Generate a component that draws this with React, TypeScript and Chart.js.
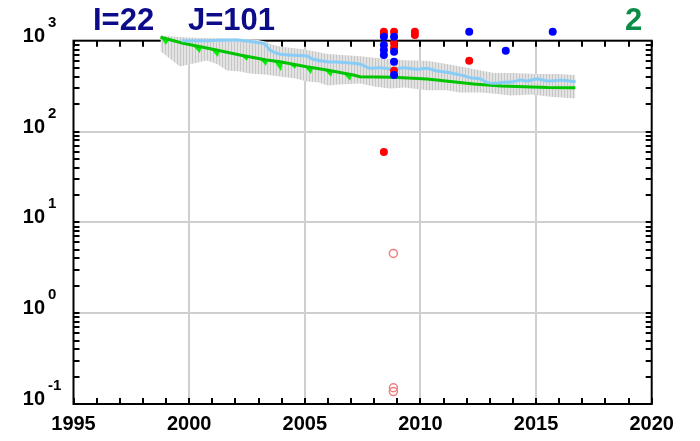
import React, { useEffect, useRef } from 'react';
import { Chart, registerables } from 'chart.js';
Chart.register(...registerables);

// ---- axis definitions ----
const X_MIN = 1995;
const X_MAX = 2020;
const Y_MIN = 0.1;
const Y_MAX = 1000;
const xTickLabels = [1995, 2000, 2005, 2010, 2015, 2020];
const xGridYears = [2000, 2005, 2010, 2015];
const yDecades = [-1, 0, 1, 2, 3];
const yGridDecades = [0, 1, 2];

// ---- titles ----
const titleLeft = 'I=22';
const titleMid = 'J=101';
const titleRight = '2';

// ---- grey envelope ----
const bandUpperYears = [1998.76, 1999.5, 2000.5, 2002.0, 2003.0, 2003.3, 2003.6, 2004.0, 2005.0, 2005.5, 2006.0, 2007.4, 2008.3, 2009.3, 2010.3, 2011.2, 2011.9, 2012.6, 2013.2, 2014.0, 2015.0, 2016.0, 2016.71];
const bandUpperVals = [1150, 1100, 1070, 1060, 1020, 980, 900, 860, 800, 755, 715, 675, 635, 610, 600, 550, 510, 470, 440, 440, 430, 430, 420];
const bandLowerYears = [1998.73, 1999.16, 1999.6, 2000.0, 2000.76, 2001.24, 2001.63, 2002.2, 2002.6, 2003.3, 2003.9, 2004.6, 2005.1, 2005.6, 2006.0, 2006.5, 2007.4, 2008.0, 2008.7, 2009.3, 2010.3, 2011.1, 2011.7, 2012.6, 2013.15, 2013.9, 2014.8, 2015.6, 2016.7];
const bandLowerVals = [780, 637, 520, 546, 606, 546, 470, 459, 436, 424, 403, 384, 355, 347, 321, 329, 338, 313, 298, 305, 284, 284, 269, 269, 262, 249, 255, 242, 231];

// ---- green line and its spikes ----
const greenYears = [1998.76, 1999.74, 2001.18, 2002.19, 2003.35, 2003.93, 2005.08, 2005.95, 2007.10, 2007.39, 2008.82, 2010.29, 2011.40, 2012.3, 2013.5, 2014.47, 2015.5, 2016.7];
const greenVals = [1090, 936, 790, 696, 613, 587, 517, 476, 419, 402, 396, 379, 353, 334, 318, 312, 305, 304];
const spikeYears = [1998.76, 1998.99, 1999.15, 2000.16, 2000.46, 2000.54, 2000.94, 2001.24, 2001.32, 2002.2, 2002.5, 2002.58, 2003.02, 2003.32, 2003.4, 2003.67, 2003.97, 2004.05, 2004.28, 2004.58, 2004.66, 2004.97, 2005.27, 2005.35, 2005.84, 2006.14, 2006.22, 2006.66, 2006.96, 2007.04];
const spikeVals = [1090, 900, 1025, 880, 730, 850, 805, 660, 775, 694, 600, 670, 640, 530, 608, 596, 460, 580, 565, 490, 545, 522, 430, 502, 480, 400, 462, 438, 362, 425];

// ---- light blue line ----
const blueLineYears = [1999.67, 2000.75, 2002.05, 2002.99, 2003.28, 2003.49, 2003.93, 2005.08, 2005.37, 2005.95, 2006.53, 2007.39, 2007.82, 2008.26, 2008.83, 2009.27, 2009.85, 2010.28, 2010.71, 2011.15, 2011.58, 2011.87, 2012.16, 2012.59, 2012.88, 2013.17, 2013.6, 2014.03, 2014.32, 2014.61, 2015.05, 2015.48, 2016.06, 2016.71];
const blueLineVals = [1000, 1000, 1018, 951, 913, 790, 708, 678, 624, 587, 578, 550, 497, 505, 484, 505, 484, 497, 464, 449, 427, 412, 391, 379, 348, 339, 348, 353, 369, 360, 379, 360, 366, 353];

// ---- dots ----
const redDotYears = [2008.42, 2008.42, 2008.86, 2008.86, 2008.86, 2008.86, 2009.76, 2009.76, 2012.11, 2008.42];
const redDotVals = [1256, 1180, 1256, 936, 831, 467, 1256, 1156, 602, 59.5];
const blueDotYears = [2008.42, 2008.42, 2008.42, 2008.42, 2008.86, 2008.86, 2008.86, 2008.86, 2012.11, 2013.69, 2015.72];
const blueDotVals = [1107, 897, 790, 696, 1107, 757, 587, 419, 1256, 776, 1256];
const hollowYears = [2008.83, 2008.83, 2008.83];
const hollowVals = [4.55, 0.151, 0.137];

const pts = (xs: number[], ys: number[]) => xs.map((x, i) => ({ x, y: ys[i] }));

const FONT = '"Liberation Sans", Arial, Helvetica, sans-serif';

// layout of the axes box in the canvas
const BOX_LEFT = 73.5;
const BOX_RIGHT = 48.3;
const BOX_TOP = 40.7;
const BOX_BOTTOM = 37;
const BOX_HEIGHT = 441 - BOX_TOP - BOX_BOTTOM;
// extend the scale above the axes box so marks above the frame are not culled
const SCALE_MAX = Y_MAX * Math.pow(Y_MAX / Y_MIN, BOX_TOP / BOX_HEIGHT);

function box(chart: any) {
  const { chartArea: a, scales } = chart;
  return {
    left: a.left,
    right: a.right,
    bottom: a.bottom,
    top: scales.y.getPixelForValue(Y_MAX),
  };
}

const axesPlugin = {
  id: 'matlabAxes',
  beforeDatasetsDraw(chart: any) {
    const { ctx, scales } = chart;
    const a = box(chart);
    const x = scales.x;
    const y = scales.y;
    ctx.save();
    ctx.strokeStyle = '#cfcfcf';
    ctx.lineWidth = 2;
    ctx.beginPath();
    for (const v of xGridYears) {
      const px = Math.round(x.getPixelForValue(v));
      ctx.moveTo(px, a.top);
      ctx.lineTo(px, a.bottom);
    }
    for (const d of yGridDecades) {
      const py = Math.round(y.getPixelForValue(Math.pow(10, d)));
      ctx.moveTo(a.left, py);
      ctx.lineTo(a.right, py);
    }
    ctx.stroke();
    ctx.strokeStyle = '#000';
    ctx.lineWidth = 2;
    ctx.strokeRect(a.left, a.top, a.right - a.left, a.bottom - a.top);
    ctx.beginPath();
    const tl = 6;
    for (let yr = X_MIN; yr <= X_MAX; yr++) {
      const px = Math.round(x.getPixelForValue(yr));
      ctx.moveTo(px, a.bottom);
      ctx.lineTo(px, a.bottom - tl);
      ctx.moveTo(px, a.top);
      ctx.lineTo(px, a.top + tl);
    }
    for (let d = -1; d < 3; d++) {
      for (let m = 1; m <= 9; m++) {
        const py = Math.round(y.getPixelForValue(m * Math.pow(10, d)));
        ctx.moveTo(a.left, py);
        ctx.lineTo(a.left + tl, py);
        ctx.moveTo(a.right, py);
        ctx.lineTo(a.right - tl, py);
      }
    }
    ctx.stroke();
    ctx.restore();
  },
  afterDraw(chart: any) {
    const { ctx, scales } = chart;
    const a = box(chart);
    const x = scales.x;
    const y = scales.y;
    ctx.save();
    ctx.fillStyle = '#000';
    ctx.font = `bold 20px ${FONT}`;
    ctx.textAlign = 'center';
    ctx.textBaseline = 'alphabetic';
    for (const v of xTickLabels) {
      ctx.fillText(String(v), x.getPixelForValue(v), a.bottom + 25.5);
    }
    for (const d of yDecades) {
      const py = y.getPixelForValue(Math.pow(10, d));
      ctx.font = `bold 20px ${FONT}`;
      ctx.textAlign = 'right';
      ctx.fillText('10', 45, py + 1);
      ctx.font = `bold 15px ${FONT}`;
      ctx.textAlign = 'left';
      ctx.fillText(String(d), 48, py - 14);
    }
    ctx.font = `bold 31px ${FONT}`;
    ctx.textAlign = 'left';
    ctx.fillStyle = '#0c0c8a';
    ctx.fillText(titleLeft, 93, 30);
    ctx.fillText(titleMid, 188, 30);
    ctx.fillStyle = '#0a8c46';
    ctx.fillText(titleRight, 625, 30);
    ctx.restore();
  },
};

export default function App() {
  const ref = useRef<HTMLCanvasElement>(null);
  useEffect(() => {
    const canvas = ref.current!;
    const pc = document.createElement('canvas');
    pc.width = 3;
    pc.height = 4;
    const pctx = pc.getContext('2d')!;
    pctx.fillStyle = '#e3e3e3';
    pctx.fillRect(0, 0, 3, 4);
    pctx.fillStyle = '#c6c6c6';
    pctx.fillRect(0, 0, 1, 4);
    const pattern = canvas.getContext('2d')!.createPattern(pc, 'repeat');

    const chart = new Chart(canvas, {
      type: 'line',
      data: {
        datasets: [
          { data: pts(bandUpperYears, bandUpperVals), borderWidth: 0, pointRadius: 0, fill: '+1', backgroundColor: pattern as any, order: 10, clip: false } as any,
          { data: pts(bandLowerYears, bandLowerVals), borderWidth: 0, pointRadius: 0, fill: false, order: 9, clip: false },
          { data: pts(spikeYears, spikeVals), borderWidth: 0, pointRadius: 0, fill: 3, backgroundColor: '#00f000', order: 8, clip: false },
          { data: pts(greenYears, greenVals), borderColor: '#00c400', borderWidth: 3, pointRadius: 0, fill: false, order: 7, clip: false },
          { data: pts(blueLineYears, blueLineVals), borderColor: '#87cdf7', borderWidth: 3, pointRadius: 0, tension: 0.3, fill: false, order: 6, clip: false },
          { data: pts(redDotYears, redDotVals), showLine: false, pointRadius: 4, pointBackgroundColor: '#ff0000', pointBorderWidth: 0, order: 3, clip: false },
          { data: pts(blueDotYears, blueDotVals), showLine: false, pointRadius: 4, pointBackgroundColor: '#0000ff', pointBorderWidth: 0, order: 2, clip: false },
          { data: pts(hollowYears, hollowVals), showLine: false, pointRadius: 4, pointBackgroundColor: 'rgba(0,0,0,0)', pointBorderColor: '#f08080', pointBorderWidth: 1.5, order: 1, clip: false },
        ] as any,
      },
      options: {
        animation: false,
        responsive: false,
        layout: { autoPadding: false, padding: { left: BOX_LEFT, right: BOX_RIGHT, top: 0, bottom: BOX_BOTTOM } },
        scales: {
          x: { type: 'linear', min: X_MIN, max: X_MAX, display: false },
          y: { type: 'logarithmic', min: Y_MIN, max: SCALE_MAX, display: false },
        },
        plugins: { legend: { display: false }, tooltip: { enabled: false } },
        events: [],
      } as any,
      plugins: [axesPlugin],
    });
    return () => chart.destroy();
  }, []);
  return (
    <div style={{ position: 'fixed', left: 0, top: 0, width: 700, height: 441, background: '#fff' }}>
      <canvas ref={ref} width={700} height={441} style={{ display: 'block' }} />
    </div>
  );
}
